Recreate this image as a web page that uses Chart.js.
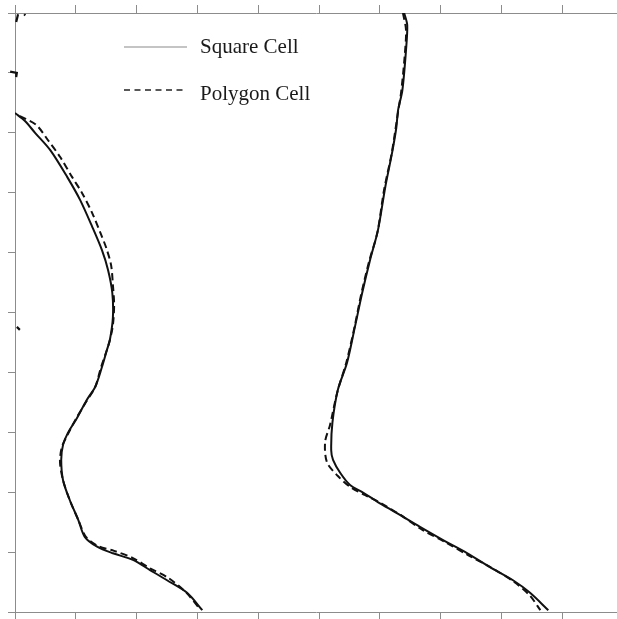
<!DOCTYPE html>
<html>
<head>
<meta charset="utf-8">
<script src="https://cdn.jsdelivr.net/npm/chart.js@4/dist/chart.umd.min.js"></script>
<style>
  html, body { margin: 0; padding: 0; background: #fff; }
  #wrap { width: 617px; height: 619px; }
</style>
</head>
<body>
<div id="wrap"><canvas id="chart"></canvas></div>
<script>
// left curve (depth levels and x positions)
const leftSquareY = [8.33, 8.20, 8.00, 7.71, 7.26, 6.88, 6.43, 6.04, 5.71, 5.33, 4.92, 4.54, 4.37, 4.09, 3.76, 3.54, 3.24, 2.99, 2.79, 2.54, 2.20, 1.87, 1.54, 1.25, 1.09, 0.98, 0.87, 0.70, 0.53, 0.32, 0.03];
const leftSquareX = [0.00, 0.16, 0.33, 0.58, 0.86, 1.07, 1.27, 1.43, 1.53, 1.60, 1.61, 1.56, 1.51, 1.43, 1.32, 1.18, 1.02, 0.87, 0.79, 0.76, 0.79, 0.90, 1.04, 1.15, 1.35, 1.61, 1.94, 2.22, 2.50, 2.83, 3.08];
const leftPolygonY = [8.28, 8.13, 7.88, 7.60, 7.26, 7.00, 6.66, 6.34, 6.08, 5.79, 5.46, 5.13, 4.79, 4.54, 4.37, 4.07, 3.76, 3.51, 3.22, 2.95, 2.75, 2.50, 2.20, 1.87, 1.54, 1.25, 1.10, 1.02, 0.90, 0.73, 0.57, 0.33, 0.05];
const leftPolygonX = [0.08, 0.35, 0.54, 0.74, 0.94, 1.10, 1.27, 1.40, 1.50, 1.58, 1.61, 1.63, 1.61, 1.56, 1.51, 1.41, 1.32, 1.17, 1.00, 0.86, 0.77, 0.74, 0.79, 0.90, 1.04, 1.17, 1.37, 1.63, 1.94, 2.22, 2.52, 2.81, 3.04];

// right curve
const rightSquareY = [10.00, 9.80, 9.38, 8.71, 8.38, 8.08, 7.66, 7.10, 6.38, 5.88, 5.33, 4.76, 4.16, 3.71, 3.16, 2.70, 2.54, 2.32, 2.12, 1.99, 1.84, 1.65, 1.42, 1.20, 0.98, 0.75, 0.53, 0.32, 0.03];
const rightSquareX = [6.40, 6.45, 6.43, 6.37, 6.30, 6.27, 6.20, 6.09, 5.97, 5.84, 5.71, 5.59, 5.46, 5.31, 5.22, 5.20, 5.23, 5.35, 5.51, 5.73, 5.96, 6.28, 6.66, 7.04, 7.44, 7.81, 8.19, 8.47, 8.77];
const rightPolygonY = [10.00, 9.72, 9.30, 8.68, 8.35, 8.01, 7.63, 7.05, 6.34, 5.84, 5.29, 4.74, 4.17, 3.67, 3.12, 2.84, 2.50, 2.27, 2.09, 1.95, 1.82, 1.62, 1.37, 1.17, 0.95, 0.73, 0.50, 0.27, 0.03];
const rightPolygonX = [6.38, 6.43, 6.41, 6.35, 6.30, 6.25, 6.19, 6.07, 5.96, 5.82, 5.69, 5.58, 5.45, 5.30, 5.18, 5.10, 5.13, 5.31, 5.51, 5.76, 6.01, 6.34, 6.70, 7.07, 7.45, 7.85, 8.21, 8.47, 8.64];

// short stray pieces near the left edge (null = break)
const fragY = [9.85, 9.98, null, 9.98, 9.96, null, 9.02, 9.00, 8.93, null, 4.76, 4.71];
const fragX = [0.02, 0.05, null, 0.15, 0.17, null, -0.08, 0.03, 0.02, null, 0.03, 0.08];

const xTicks = [0, 1, 2, 3, 4, 5, 6, 7, 8, 9];
const seriesNames = ['Square Cell', 'Polygon Cell'];

function pts(xs, ys) {
  return xs.map((x, i) => ({ x: x, y: ys[i] }));
}

const axisGray = '#8c8c8c';

function axis(position) {
  return {
    type: 'linear',
    position: position,
    min: 0,
    max: 9.9,
    afterBuildTicks: function (scale) {
      scale.ticks = xTicks.map(v => ({ value: v }));
    },
    ticks: { display: false },
    grid: { drawOnChartArea: false, drawTicks: true, tickLength: position === 'top' ? 8 : 7, color: axisGray, lineWidth: 1 },
    border: { display: true, color: axisGray, width: 1 }
  };
}

// legend drawn by hand so the line samples look like the original
const legendPlugin = {
  id: 'lineLegend',
  afterDraw(chart) {
    const ctx = chart.ctx;
    const a = chart.chartArea;
    const x0 = a.left + 109, x1 = a.left + 172;
    ctx.save();
    ctx.lineWidth = 1.2;
    ctx.strokeStyle = '#8a8a8a';
    ctx.beginPath();
    ctx.moveTo(x0, a.top + 34);
    ctx.lineTo(x1, a.top + 34);
    ctx.stroke();

    ctx.lineWidth = 1.5;
    ctx.strokeStyle = '#222';
    ctx.setLineDash([6, 4.5]);
    ctx.beginPath();
    ctx.moveTo(x0, a.top + 77);
    ctx.lineTo(x1 - 2, a.top + 77);
    ctx.stroke();
    ctx.setLineDash([]);

    ctx.fillStyle = '#1a1a1a';
    ctx.font = '21px "Liberation Serif", "Times New Roman", serif';
    ctx.textBaseline = 'alphabetic';
    ctx.fillText(seriesNames[0], a.left + 185, a.top + 40);
    ctx.fillText(seriesNames[1], a.left + 185, a.top + 87);
    ctx.restore();
  }
};

const curveStyle = { borderColor: '#111', borderWidth: 2, pointRadius: 0, tension: 0.3, fill: false };

new Chart(document.getElementById('chart'), {
  type: 'line',
  data: {
    datasets: [
      { ...curveStyle, label: seriesNames[0], data: pts(leftSquareX, leftSquareY) },
      { ...curveStyle, label: seriesNames[0], data: pts(rightSquareX, rightSquareY) },
      { ...curveStyle, label: seriesNames[1], data: pts(leftPolygonX, leftPolygonY), borderDash: [7, 4] },
      { ...curveStyle, label: seriesNames[1], data: pts(rightPolygonX, rightPolygonY), borderDash: [7, 4] },
      { ...curveStyle, label: '', data: pts(fragX, fragY), tension: 0, borderWidth: 2.2, clip: false, spanGaps: false }
    ]
  },
  options: {
    responsive: true,
    maintainAspectRatio: false,
    animation: false,
    layout: { padding: { top: 5, left: 8, right: 0, bottom: 0 } },
    plugins: { legend: { display: false }, tooltip: { enabled: false } },
    scales: {
      x: axis('bottom'),
      x2: axis('top'),
      y: {
        type: 'linear',
        position: 'left',
        min: 0,
        max: 10,
        ticks: { display: false, stepSize: 1 },
        grid: { drawOnChartArea: false, drawTicks: true, tickLength: 7, color: axisGray, lineWidth: 1 },
        border: { display: true, color: axisGray, width: 1 }
      }
    }
  },
  plugins: [legendPlugin]
});
</script>
</body>
</html>
